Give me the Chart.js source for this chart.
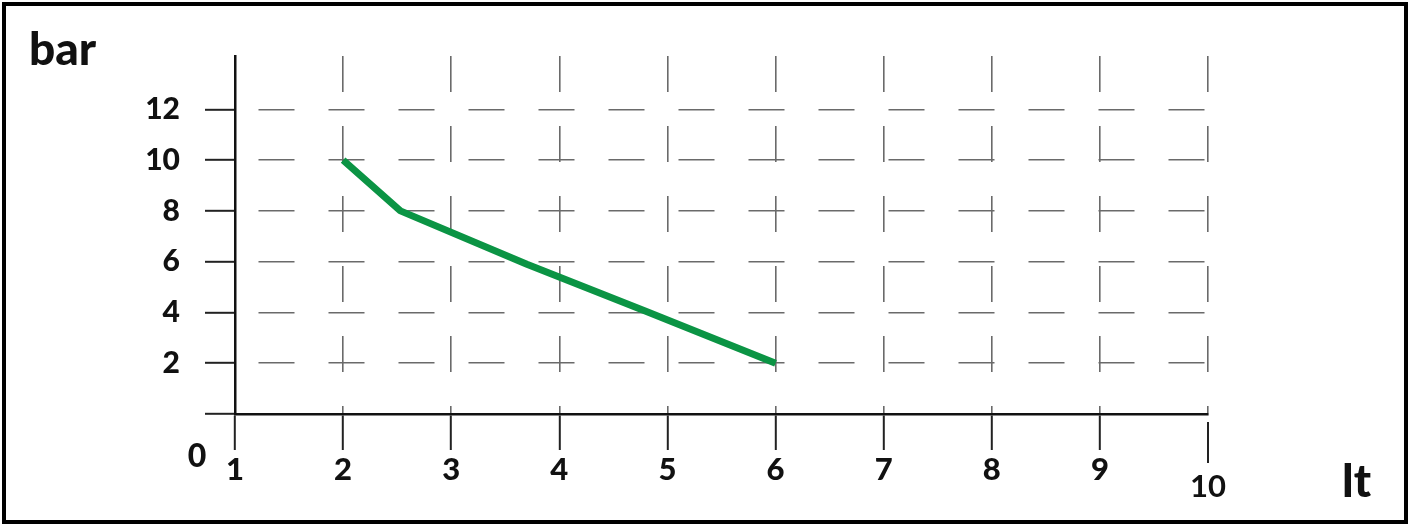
<!DOCTYPE html>
<html lang="en">
<head>
  <meta charset="UTF-8" />
  <title>bar / lt</title>
  <script src="https://cdn.jsdelivr.net/npm/chart.js"></script>
  <style>
    body { margin: 0; background: #fff; }
    #frame { position: absolute; left: 2px; top: 2px; width: 1398px; height: 514px; border: 4px solid #000; }
    #wrap { position: absolute; left: 0; top: 0; width: 1411px; height: 527px; }
  </style>
</head>
<body>
  <div id="frame"></div>
  <div id="wrap">
    <canvas id="chart" width="1411" height="527"></canvas>
  </div>

  <script>
    // flow curve: pressure (bar) against volume (lt)
    const litres = [2, 2.53, 3.7, 4.8, 6];
    const pressure = [10, 8, 5.9, 4.05, 2];
    const xTicks = [1, 2, 3, 4, 5, 6, 7, 8, 9, 10];
    const yTicks = [0, 2, 4, 6, 8, 10, 12];

    const FONT = 'Lato';
    const gridGrey = '#6a6a6a';
    const clear = 'rgba(0,0,0,0)';

    // labels that sit outside the normal tick layout, and the loose tick at 10
    const extraText = {
      id: 'extraText',
      afterDraw(chart) {
        const c = chart.ctx;
        const px10 = chart.scales.x.getPixelForValue(10);
        c.save();
        c.strokeStyle = '#222';
        c.lineWidth = 2;
        c.beginPath();
        c.moveTo(px10, 422);
        c.lineTo(px10, 463);
        c.stroke();

        c.fillStyle = '#111';
        c.textBaseline = 'alphabetic';
        c.textAlign = 'left';
        c.font = '900 46px ' + FONT;
        c.fillText('bar', 29, 65);
        c.font = '900 46px ' + FONT;
        c.fillText('lt', 1342, 497);
        c.textAlign = 'center';
        c.font = '900 32px ' + FONT;
        c.fillText('0', 197, 467);
        c.font = 'bold 31px ' + FONT;
        c.fillText('10', px10, 497);
        c.restore();
      }
    };

    const ctx = document.getElementById('chart').getContext('2d');
    const chart = new Chart(ctx, {
      type: 'line',
      data: {
        datasets: [{
          data: litres.map((x, i) => ({ x, y: pressure[i] })),
          borderColor: '#0b9444',
          borderWidth: 7,
          pointRadius: 0,
          tension: 0,
          borderCapStyle: 'butt',
          borderJoinStyle: 'round',
        }],
      },
      options: {
        responsive: false,
        animation: false,
        events: [],
        layout: { padding: { left: 135, right: 203, top: 56, bottom: 33 } },
        plugins: { legend: { display: false }, tooltip: { enabled: false } },
        scales: {
          x: {
            type: 'linear',
            min: 1,
            max: 10,
            afterFit: s => { s.height = 80; },
            afterBuildTicks: s => { s.ticks = xTicks.map(v => ({ value: v })); },
            border: { color: '#111', width: 2.5, dash: [36, 34], dashOffset: 0 },
            grid: {
              color: c => c.tick && c.tick.value === 1 ? clear : gridGrey,
              lineWidth: 1.6,
              tickLength: 36,
              tickColor: c => c.tick && c.tick.value === 10 ? clear : '#222',
              tickWidth: 2,
              tickBorderDash: [],
            },
            ticks: {
              padding: 1,
              color: '#111',
              font: { family: FONT, weight: 900, size: 31 },
              callback: v => v === 10 ? '' : String(v),
            },
          },
          y: {
            min: 0,
            max: 14.1,
            afterFit: s => { s.width = 100; },
            afterBuildTicks: s => { s.ticks = yTicks.map(v => ({ value: v })); },
            border: { color: '#111', width: 2.5, dash: [36, 34], dashOffset: 48 },
            grid: {
              color: c => c.tick && c.tick.value === 0 ? clear : gridGrey,
              lineWidth: 1.6,
              tickLength: 30,
              tickColor: '#222',
              tickWidth: 2,
              tickBorderDash: [],
            },
            ticks: {
              padding: 25,
              color: '#111',
              font: { family: FONT, weight: 900, size: 30 },
              callback: v => v === 0 ? '' : String(v),
            },
          },
        },
      },
      plugins: [extraText],
    });
  </script>
</body>
</html>
